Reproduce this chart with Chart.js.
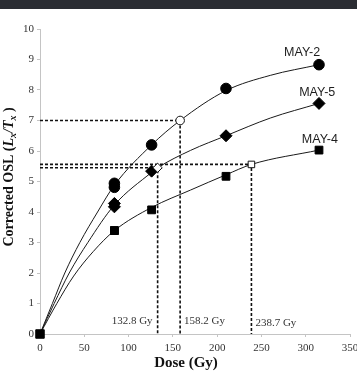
<!DOCTYPE html>
<html>
<head>
<meta charset="utf-8">
<script src="https://cdn.jsdelivr.net/npm/chart.js@4.4.0/dist/chart.umd.min.js"></script>
<style>
  html, body { margin: 0; padding: 0; background: #fff; }
  #wrap { position: relative; width: 357px; height: 371px; }
  #band { position: absolute; left: 0; top: 0; width: 357px; height: 9px; background: #2b2d33; }
</style>
</head>
<body>
<div id="wrap">
  <canvas id="c" width="357" height="371"></canvas>
  <div id="band"></div>
</div>
<script>
// measured regeneration points (two replicates at the first dose)
const seriesNames = ['MAY-2', 'MAY-5', 'MAY-4'];
const regenDose = [84, 84, 126, 210, 315];
const may2Lx = [4.94, 4.81, 6.2, 8.05, 8.83];
const may5Lx = [4.28, 4.17, 5.34, 6.5, 7.56];
const may4Lx = [3.39, 3.39, 4.07, 5.17, 6.03];
const zeroDose = [0];
const zeroLx = [0];

// fitted growth curves
const fitDose2 = [0, 14, 28, 45, 65, 84, 126, 158.2, 210, 260, 315];
const fitLx2   = [0, 1.0, 2.0, 3.0, 4.0, 4.88, 6.2, 7.0, 7.98, 8.48, 8.83];
const fitDose5 = [0, 16, 33, 54, 84, 126, 132.8, 170, 210, 260, 315];
const fitLx5   = [0, 1.0, 2.0, 3.0, 4.23, 5.3, 5.45, 6.02, 6.5, 7.08, 7.56];
const fitDose4 = [0, 19, 38, 60, 84, 126, 170, 210, 238.7, 315];
const fitLx4   = [0, 1.0, 1.9, 2.7, 3.39, 4.15, 4.72, 5.22, 5.56, 6.03];

// equivalent doses (order: MAY-2, MAY-5, MAY-4)
const deDose = [158.2, 132.8, 238.7];
const deLx = [7.0, 5.45, 5.56];
const deLabels = ['158.2 Gy', '132.8 Gy', '238.7 Gy'];

// series name positions in data units
const nameDose = [296, 313, 316];
const nameLx = [9.22, 7.93, 6.39];

const xTicks = [0, 50, 100, 150, 200, 250, 300, 350];
const yTicks = [0, 1, 2, 3, 4, 5, 6, 7, 8, 9, 10];

const pts = (xs, ys) => xs.map((x, i) => ({ x: x, y: ys[i] }));
const shapes = ['circle', 'rectRot', 'rect'];
const markerLx = [may2Lx, may5Lx, may4Lx];
const fits = [[fitDose2, fitLx2], [fitDose5, fitLx5], [fitDose4, fitLx4]];

const datasets = [];
fits.forEach((f, i) => {
  datasets.push({
    label: seriesNames[i] + ' fit', data: pts(f[0], f[1]), showLine: true,
    borderColor: '#1a1a1a', borderWidth: 1, pointRadius: 0,
    cubicInterpolationMode: 'monotone', order: 4, clip: false
  });
});
deDose.forEach((d, i) => {
  datasets.push({
    label: seriesNames[i] + ' De', data: [{ x: 0, y: deLx[i] }, { x: d, y: deLx[i] }, { x: d, y: 0 }],
    showLine: true, borderColor: '#111', borderWidth: 1.6, borderDash: [3, 2],
    pointRadius: 0, tension: 0, order: 3, clip: false
  });
});
markerLx.forEach((ys, i) => {
  datasets.push({
    label: seriesNames[i], data: pts(regenDose, ys), showLine: false,
    pointStyle: shapes[i], pointRadius: i === 2 ? 5.5 : (i === 1 ? 6 : 5.3),
    backgroundColor: '#000', borderColor: '#000', borderWidth: 1, order: 2, clip: false
  });
});
datasets.push({
  label: 'zero', data: pts(zeroDose, zeroLx), showLine: false, pointStyle: 'rect',
  pointRadius: 6, backgroundColor: '#000', borderColor: '#000', order: 1, clip: false
});
datasets.push({
  label: 'De points', data: pts(deDose, deLx), showLine: false, pointStyle: shapes,
  pointRadius: [4.3, 4.6, 4.6], backgroundColor: '#fff', borderColor: '#111', borderWidth: 1,
  order: 0, clip: false
});

const textPlugin = {
  id: 'texts',
  afterDraw(chart) {
    const ctx = chart.ctx;
    const xs = chart.scales.x, ys = chart.scales.y;
    ctx.save();
    // series names
    ctx.fillStyle = '#1e1e1e';
    ctx.font = '12.5px "Liberation Sans", Arial, sans-serif';
    ctx.textAlign = 'center';
    ctx.textBaseline = 'middle';
    seriesNames.forEach((n, i) => {
      ctx.fillText(n, xs.getPixelForValue(nameDose[i]), ys.getPixelForValue(nameLx[i]));
    });
    // De labels beside the vertical dashed lines
    ctx.fillStyle = '#333';
    ctx.font = '11px "Liberation Serif", "Times New Roman", serif';
    deLabels.forEach((t, i) => {
      const px = xs.getPixelForValue(deDose[i]);
      const py = i === 2 ? 323 : 321;
      if (i === 1) { ctx.textAlign = 'right'; ctx.fillText(t, px - 5, py); }
      else { ctx.textAlign = 'left'; ctx.fillText(t, px + 4, py); }
    });
    // x title
    ctx.fillStyle = '#111';
    ctx.textAlign = 'center';
    ctx.font = 'bold 15px "Liberation Serif", "Times New Roman", serif';
    ctx.fillText('Dose (Gy)', 186, 363);
    // y title with italic L/T and subscript x
    const parts = [
      ['Corrected OSL (', 'bold 14px "Liberation Serif", serif', 0],
      ['L', 'italic bold 14px "Liberation Serif", serif', 0],
      ['x', 'italic bold 10px "Liberation Serif", serif', 3],
      ['/', 'italic bold 14px "Liberation Serif", serif', 0],
      ['T', 'italic bold 14px "Liberation Serif", serif', 0],
      ['x', 'italic bold 10px "Liberation Serif", serif', 3],
      [' )', 'bold 14px "Liberation Serif", serif', 0]
    ];
    let total = 0;
    parts.forEach(p => { ctx.font = p[1]; total += ctx.measureText(p[0]).width; });
    ctx.translate(13, 177);
    ctx.rotate(-Math.PI / 2);
    ctx.textAlign = 'left';
    ctx.textBaseline = 'alphabetic';
    let cx = -total / 2;
    parts.forEach(p => {
      ctx.font = p[1];
      ctx.fillText(p[0], cx, p[2]);
      cx += ctx.measureText(p[0]).width;
    });
    ctx.restore();
  }
};

new Chart(document.getElementById('c'), {
  type: 'scatter',
  data: { datasets: datasets },
  plugins: [textPlugin],
  options: {
    responsive: false,
    animation: false,
    layout: { padding: { top: 29, right: 6, left: 0, bottom: 0 } },
    plugins: { legend: { display: false }, tooltip: { enabled: false } },
    scales: {
      x: {
        type: 'linear', min: 0, max: 350,
        afterBuildTicks: s => { s.ticks = xTicks.map(v => ({ value: v })); },
        afterFit: s => { s.height = 37; s.paddingLeft = 0; s.paddingRight = 0; },
        ticks: { padding: 5, color: '#333', font: { family: '"Liberation Serif", serif', size: 11 } },
        grid: { drawOnChartArea: false, drawTicks: true, tickLength: 3, color: '#c4c4c4' },
        border: { color: '#c4c4c4', width: 1 }
      },
      y: {
        type: 'linear', min: 0, max: 10,
        afterBuildTicks: s => { s.ticks = yTicks.map(v => ({ value: v })); },
        afterFit: s => { s.width = 40; s.paddingTop = 0; s.paddingBottom = 0; },
        ticks: { padding: 3, color: '#333', font: { family: '"Liberation Serif", serif', size: 11 } },
        grid: { drawOnChartArea: false, drawTicks: true, tickLength: 3, color: '#c4c4c4' },
        border: { color: '#c4c4c4', width: 1 }
      }
    }
  }
});
</script>
</body>
</html>
